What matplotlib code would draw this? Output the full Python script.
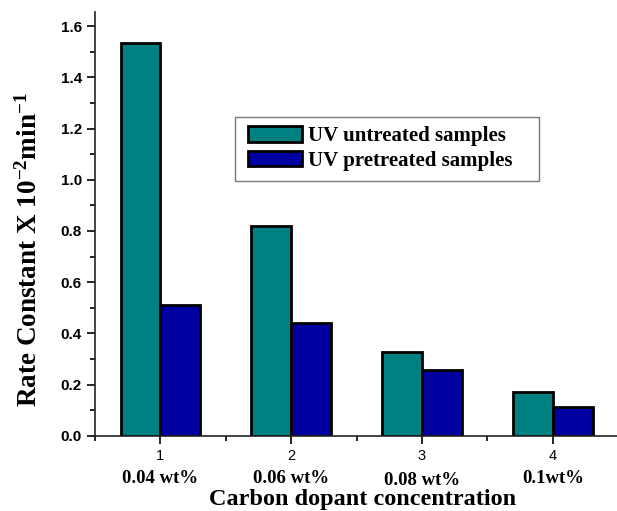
import numpy as np
import matplotlib.pyplot as plt
from matplotlib.ticker import MultipleLocator
from matplotlib.patches import Rectangle
import matplotlib.transforms as mtransforms

# data
groups = [1, 2, 3, 4]
group_labels = ["0.04 wt%", "0.06 wt%", "0.08 wt%", "0.1wt%"]
untreated = [1.533, 0.820, 0.326, 0.172]
pretreated = [0.511, 0.441, 0.257, 0.111]

SERIF = ["Liberation Serif", "DejaVu Serif"]
SANS = ["Liberation Sans", "DejaVu Sans"]

plt.rcParams["mathtext.fontset"] = "custom"
plt.rcParams["mathtext.rm"] = "Liberation Serif:bold"
plt.rcParams["mathtext.it"] = "Liberation Serif:bold"
plt.rcParams["mathtext.bf"] = "Liberation Serif:bold"

fig = plt.figure(figsize=(6.17, 5.11), dpi=100)
ax = fig.add_axes([0.154, 0.147, 0.848, 0.830])

x = np.array(groups, dtype=float)
w = 0.305
ax.bar(x - w / 2, untreated, width=w, color="#008080", edgecolor="black",
       linewidth=2, label="UV untreated samples")
ax.bar(x + w / 2, pretreated, width=w, color="#0000A0", edgecolor="black",
       linewidth=2, label="UV pretreated samples")

ax.set_xlim(0.5, 4.5)
ax.set_ylim(0, 1.656)
ax.spines["top"].set_visible(False)
ax.spines["right"].set_visible(False)
for s in ("left", "bottom"):
    ax.spines[s].set_linewidth(1.2)
    ax.spines[s].set_color("#222222")

ax.yaxis.set_minor_locator(MultipleLocator(0.1))
ax.set_xticks(groups)
ax.xaxis.set_minor_locator(MultipleLocator(0.5))
ax.tick_params(which="major", direction="out", length=6, width=1.2)
ax.tick_params(which="minor", direction="out", length=3.5, width=1.2)
yt = np.arange(0, 1.61, 0.2)
ax.set_yticks(yt)
ax.set_yticklabels([f"{v:.1f}" for v in yt],
                   family=SANS, fontweight="bold", fontsize=11)
ax.set_xticklabels([str(g) for g in groups], family=SANS, fontsize=10.5)

# second line of the x tick labels (concentrations)
trans = mtransforms.blended_transform_factory(ax.transData, ax.transAxes)
baselines = [-0.112, -0.112, -0.1165, -0.110]
for g, lab, yb in zip(groups, group_labels, baselines):
    ax.text(g, yb, lab, transform=trans, ha="center", va="baseline",
            family=SERIF, fontweight="bold", fontsize=13.5)

ax.text(0.512, -0.163, "Carbon dopant concentration", transform=ax.transAxes,
        ha="center", va="baseline", family=SERIF, fontweight="bold",
        fontsize=17.5)
ax.set_ylabel(r"Rate Constant X 10$^{-2}$min$^{-1}$",
              family=SERIF, fontweight="bold", fontsize=19.5)
ax.yaxis.set_label_coords(-0.100, 0.438)

# legend box drawn separately so it can be wider than its entries
ax.add_patch(Rectangle((0.268, 0.601), 0.581, 0.151, transform=ax.transAxes,
                       facecolor="white", edgecolor="#777777", linewidth=1.0,
                       zorder=4))
leg = ax.legend(loc="upper left", bbox_to_anchor=(0.2925, 0.730),
                prop={"family": SERIF, "weight": "bold", "size": 15},
                frameon=False, handlelength=2.6, handleheight=0.78,
                handletextpad=0.3, borderpad=0, labelspacing=0.2,
                borderaxespad=0)
leg.set_zorder(5)

fig.savefig("out.png", dpi=100)
